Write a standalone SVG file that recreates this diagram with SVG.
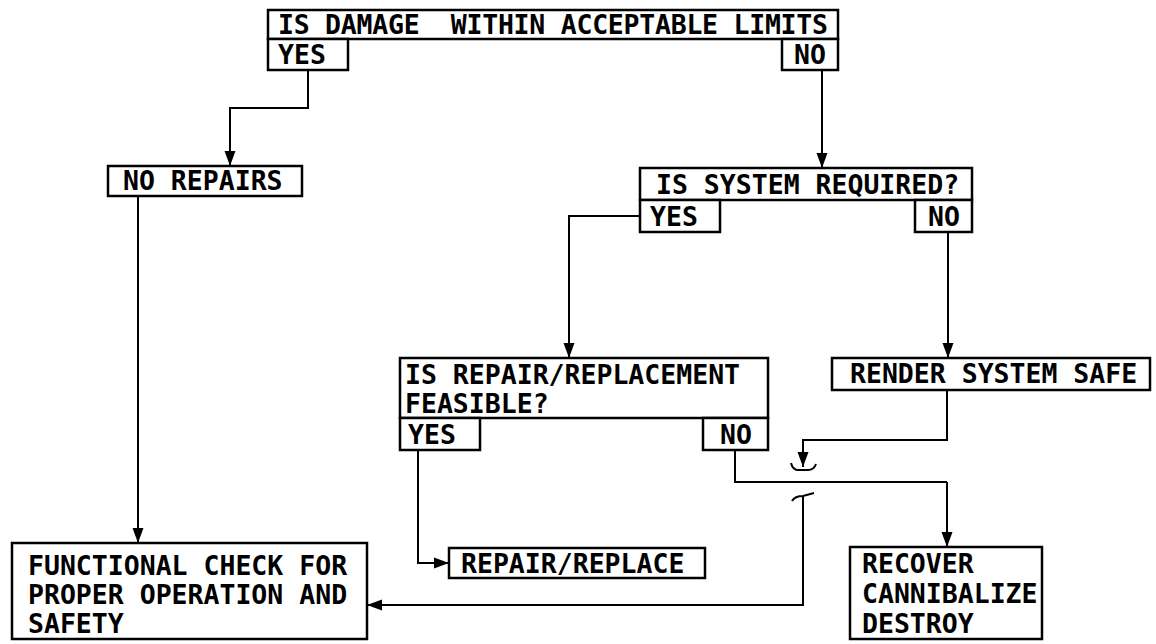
<svg xmlns="http://www.w3.org/2000/svg" width="1156" height="644" viewBox="0 0 1156 644">
<style>
.box{fill:#fff;stroke:#000;stroke-width:2.5}
.t{font-family:"DejaVu Sans Mono","Liberation Mono",monospace;font-size:26.5px;font-weight:bold;fill:#000}
.c{fill:none;stroke:#000;stroke-width:2}
.a{marker-end:url(#ah)}
</style>
<defs>
<marker id="ah" markerWidth="16" markerHeight="12" refX="15" refY="6" orient="auto" markerUnits="userSpaceOnUse">
<path d="M0,0.5 L15,6 L0,11.5 z" fill="#000"/>
</marker>
</defs>
<rect width="1156" height="644" fill="#fff"/>

<g id="connectors">
<path class="c a" d="M308,70 V108 H230 V166"/>
<path class="c a" d="M822,70 V168"/>
<path class="c a" d="M138,196 V543"/>
<path class="c a" d="M640,216 H569 V358"/>
<path class="c a" d="M948,232 V358"/>
<path class="c a" d="M947,390 V440 H803 V467"/>
<path class="c" d="M791,463 Q793,471 800,470 L808,470 Q814,470 816,464"/>
<path class="c" d="M735,450 V482 H947"/>
<path class="c a" d="M947,482 V547"/>
<path class="c" d="M792,501 Q795,496 803,496 L814,493"/>
<path class="c a" d="M803,496 V605 H367"/>
<path class="c a" d="M418,450 V563 H449"/>
</g>

<g id="n-damage">
<rect class="box" x="268" y="10" width="570" height="29"/>
<rect class="box" x="268" y="39" width="80" height="31"/>
<rect class="box" x="782" y="39" width="56" height="31"/>
<text class="t" x="278" y="34" xml:space="preserve" textLength="550" lengthAdjust="spacing">IS DAMAGE  WITHIN ACCEPTABLE LIMITS</text>
<text class="t" x="278" y="64">YES</text>
<text class="t" x="794" y="64">NO</text>
</g>

<g id="n-norepairs">
<rect class="box" x="108" y="166" width="194" height="30"/>
<text class="t" x="123" y="190">NO REPAIRS</text>
</g>

<g id="n-system">
<rect class="box" x="640" y="168" width="332" height="32"/>
<rect class="box" x="640" y="200" width="80" height="32"/>
<rect class="box" x="915" y="200" width="57" height="32"/>
<text class="t" x="656" y="194">IS SYSTEM REQUIRED?</text>
<text class="t" x="650" y="226">YES</text>
<text class="t" x="928" y="226">NO</text>
</g>

<g id="n-feasible">
<rect class="box" x="400" y="358" width="368" height="60"/>
<rect class="box" x="400" y="418" width="80" height="32"/>
<rect class="box" x="703" y="418" width="65" height="32"/>
<text class="t" x="405" y="384">IS REPAIR/REPLACEMENT</text>
<text class="t" x="405" y="413">FEASIBLE?</text>
<text class="t" x="408" y="444">YES</text>
<text class="t" x="720" y="444">NO</text>
</g>

<g id="n-render">
<rect class="box" x="832" y="358" width="318" height="32"/>
<text class="t" x="850" y="383">RENDER SYSTEM SAFE</text>
</g>

<g id="n-repair">
<rect class="box" x="449" y="548" width="256" height="30"/>
<text class="t" x="461" y="573">REPAIR/REPLACE</text>
</g>

<g id="n-functional">
<rect class="box" x="12" y="543" width="355" height="96"/>
<text class="t" x="28" y="575">FUNCTIONAL CHECK FOR</text>
<text class="t" x="28" y="604">PROPER OPERATION AND</text>
<text class="t" x="28" y="633">SAFETY</text>
</g>

<g id="n-recover">
<rect class="box" x="850" y="547" width="192" height="92"/>
<text class="t" x="862" y="573">RECOVER</text>
<text class="t" x="862" y="603">CANNIBALIZE</text>
<text class="t" x="862" y="633">DESTROY</text>
</g>
</svg>
